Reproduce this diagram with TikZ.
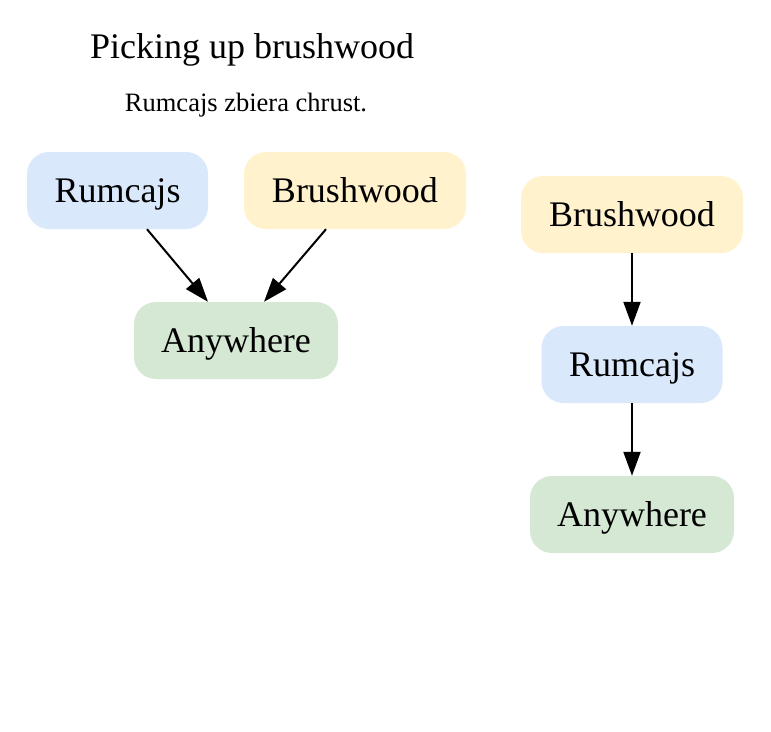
\documentclass[tikz,border=0pt]{standalone}
\usepackage{fontspec}
\setmainfont{Liberation Serif}
\usetikzlibrary{arrows.meta}
\definecolor{cblue}{HTML}{DAE8FC}
\definecolor{cyellow}{HTML}{FFF2CC}
\definecolor{cgreen}{HTML}{D5E8D4}
\tikzset{
  box/.style={rounded corners=22pt, inner sep=0pt, minimum height=77pt, font=\fontsize{36}{43}\selectfont, text height=23pt, text depth=0pt, anchor=center},
  bluebox/.style={box, fill=cblue, minimum width=181pt},
  yellowbox/.style={box, fill=cyellow, minimum width=222pt},
  greenbox/.style={box, fill=cgreen, minimum width=204pt},
  caption/.style={inner sep=0pt, text depth=0pt},
  edge/.style={line width=2pt, -{Triangle[length=24pt,width=17pt]}}
}
\begin{document}
\begin{tikzpicture}[x=1pt,y=-1pt]
\useasboundingbox[fill=white] (0,0) rectangle (771,731);
\node[caption, font=\fontsize{36}{43}\selectfont, text height=23pt] (title) at (252,47) {Picking up brushwood};
\node[caption, font=\fontsize{26.5}{32}\selectfont, text height=17pt] (sub) at (246,102.5) {Rumcajs zbiera chrust.};
% left graph
\node[bluebox] (r1) at (117.5,190.5) {Rumcajs};
\node[yellowbox] (b1) at (355,190.5) {Brushwood};
\node[greenbox] (a1) at (236,340.5) {Anywhere};
\draw[edge] ([xshift=29.5pt]r1.south) -- ([xshift=-28pt]a1.north);
\draw[edge] ([xshift=-29pt]b1.south) -- ([xshift=28pt]a1.north);
% right graph
\node[yellowbox] (b2) at (632,214.5) {Brushwood};
\node[bluebox] (r2) at (632,364.5) {Rumcajs};
\node[greenbox] (a2) at (632,514.5) {Anywhere};
\draw[edge] (b2) -- (r2);
\draw[edge] (r2) -- (a2);
\end{tikzpicture}
\end{document}
